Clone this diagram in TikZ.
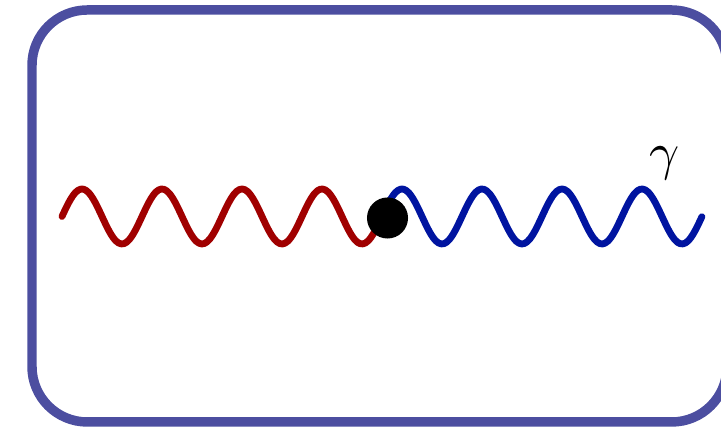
\documentclass[tikz,border=0pt]{standalone}
\usepackage{tikz}
\definecolor{framecol}{RGB}{76,78,160}
\definecolor{photonred}{RGB}{160,0,0}
\definecolor{photonblue}{RGB}{0,20,160}
\begin{document}
\begin{tikzpicture}[x=0.19pt, y=0.19pt,
    wave/.style={line width=1.3pt, line cap=round, line join=round}]
    \useasboundingbox (0,0) rectangle (721,434);

    % Frame
    \draw[line width=1.8pt, framecol, rounded corners=10.5pt] (32,12) rectangle (727,424);

    % Incoming and outgoing waves
    \draw[wave, photonred] plot[domain=0:4, samples=120, smooth] ({62+80*\x}, {217.5+27.5*sin(360*\x)});
    \draw[wave, photonblue] plot[domain=0:4, samples=120, smooth] ({382+80*\x}, {217.5+27.5*sin(360*\x)});

    % Vertex and label
    \node[circle, fill=black, inner sep=0pt, minimum size=7.8pt] (vertex) at (387.5,216) {};
    \node (gamma) at (665,271) {$\gamma$};
\end{tikzpicture}
\end{document}
